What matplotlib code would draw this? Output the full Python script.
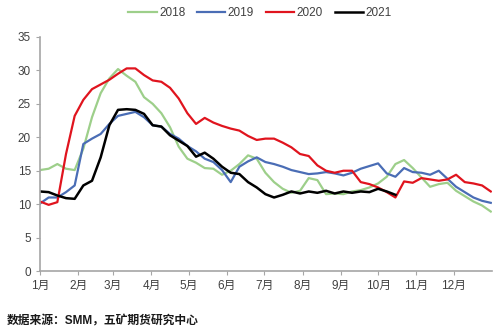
import numpy as np
import matplotlib
matplotlib.use("Agg")
import matplotlib.pyplot as plt

plt.rcParams['font.family'] = ['Liberation Sans', 'Noto Sans CJK SC', 'DejaVu Sans']

# weekly readings, week 0 = 1 Jan
y2018 = [15.1, 15.3, 16.0, 15.3, 15.1, 18.3, 23.0, 26.6, 28.8, 30.2, 29.2, 28.3, 26.0,
         25.0, 23.6, 21.5, 18.6, 16.8, 16.2, 15.4, 15.3, 14.4, 15.0, 16.0, 17.3, 16.8,
         14.7, 13.3, 12.3, 11.7, 12.0, 13.9, 13.6, 11.5, 11.6, 11.5, 11.9, 12.1, 12.5,
         13.1, 14.1, 16.0, 16.6, 15.4, 14.0, 12.6, 13.0, 13.2, 12.0, 11.2, 10.4, 9.8, 8.9]
y2019 = [10.1, 11.0, 11.0, 11.8, 12.8, 19.0, 19.8, 20.5, 22.0, 23.2, 23.5, 23.8, 23.0,
         21.8, 21.6, 20.5, 19.8, 18.7, 17.9, 16.8, 16.3, 15.1, 13.3, 15.6, 16.4, 17.0,
         16.3, 16.0, 15.6, 15.1, 14.8, 14.5, 14.6, 14.8, 14.6, 14.3, 14.7, 15.3, 15.7,
         16.1, 14.6, 14.1, 15.4, 14.8, 14.7, 14.4, 15.0, 13.8, 12.6, 11.8, 11.0, 10.5, 10.2]
y2020 = [10.4, 9.9, 10.3, 17.5, 23.2, 25.6, 27.2, 27.9, 28.6, 29.5, 30.3, 30.3, 29.3,
         28.5, 28.3, 27.4, 25.8, 23.6, 22.0, 22.9, 22.2, 21.7, 21.3, 21.0, 20.2, 19.6,
         19.8, 19.8, 19.2, 18.5, 17.5, 17.2, 15.8, 15.0, 14.7, 15.0, 15.0, 13.3, 13.0,
         12.5, 11.8, 11.0, 13.4, 13.2, 13.9, 13.7, 13.5, 13.7, 14.4, 13.3, 13.1, 12.8, 11.9]
y2021 = [11.9, 11.8, 11.3, 10.9, 10.8, 12.8, 13.5, 17.0, 21.8, 24.1, 24.2, 24.1, 23.5,
         21.8, 21.6, 20.3, 19.5, 18.7, 17.1, 17.7, 16.8, 15.6, 14.7, 14.5, 13.3, 12.5,
         11.5, 11.0, 11.4, 11.9, 11.6, 11.9, 11.7, 12.0, 11.6, 11.9, 11.7, 11.9, 11.8,
         12.3, 11.9, 11.4]
month_days = [0, 31, 59, 90, 120, 151, 181, 212, 243, 273, 304, 334]
month_labels = [f"{m}月" for m in range(1, 13)]

fig = plt.figure(figsize=(5, 3.33), dpi=100)
ax = fig.add_axes([0.08, 0.186, 0.904, 0.703])

def days(vals):
    return np.arange(len(vals)) * 7

ax.plot(days(y2018), y2018, color="#9dcf8a", lw=1.6, label="2018")
ax.plot(days(y2019), y2019, color="#4a6db5", lw=1.6, label="2019")
ax.plot(days(y2020), y2020, color="#e0141e", lw=1.6, label="2020")
ax.plot(days(y2021), y2021, color="#000000", lw=1.8, label="2021")

ax.set_xlim(0, 365)
ax.set_ylim(0, 35)
ax.set_yticks(range(0, 36, 5))
ax.set_xticks(month_days)
ax.set_xticklabels(month_labels)
for s in ["top", "right"]:
    ax.spines[s].set_visible(False)
for s in ["left", "bottom"]:
    ax.spines[s].set_color("#a6a6a6")
    ax.spines[s].set_linewidth(1.2)
ax.tick_params(colors="#a6a6a6", labelcolor="#404040", labelsize=8.5, length=3)

fig.legend(loc="upper center", bbox_to_anchor=(0.52, 1.01), ncol=4, frameon=False,
           fontsize=8.5, handlelength=2.4, columnspacing=1.0, handletextpad=0.2,
           labelcolor="#404040")
fig.text(0.014, 0.025, "数据来源：SMM，五矿期货研究中心", fontsize=8.5,
         fontweight="bold", color="#1a1a1a")

plt.savefig("out.png", dpi=100)
